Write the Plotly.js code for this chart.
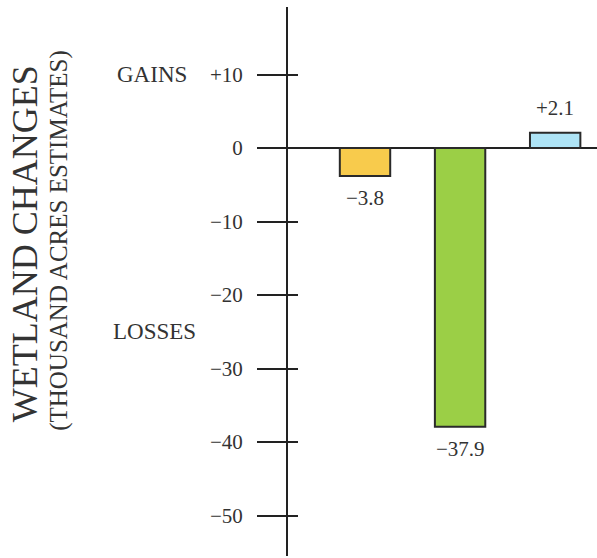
<!DOCTYPE html>
<html>
<head>
<meta charset="utf-8">
<script src="https://cdn.plot.ly/plotly-3.0.1.min.js"></script>
<style>html,body{margin:0;padding:0;background:#fff;}#chart{width:597px;height:558px;}</style>
</head>
<body>
<div id="chart"></div>
<script>
// ---- data ----
var categories = ['Bar 1', 'Bar 2', 'Bar 3'];
var values = [-3.8, -37.9, 2.1];
var valueLabels = ['\u22123.8', '\u221237.9', '+2.1'];
var barColors = ['#F8CB4C', '#9BCF46', '#AEE4F6'];
var tickVals = [10, 0, -10, -20, -30, -40, -50];
var tickText = ['+10', '0', '\u221210', '\u221220', '\u221230', '\u221240', '\u221250'];
var titleMain = 'WETLAND CHANGES';
var titleSub = '(THOUSAND ACRES ESTIMATES)';
var gainsLabel = 'GAINS';
var lossesLabel = 'LOSSES';

var serif = '"Liberation Serif", serif';
var ink = '#222';
var textCol = '#333';
var yRange = [-55.5, 19.2];

var trace = {
  type: 'bar',
  x: categories,
  y: values,
  width: 0.53,
  marker: {color: barColors, line: {color: '#2a2a2a', width: 2}},
  hoverinfo: 'skip',
  showlegend: false
};

var valueAnns = categories.map(function (c, i) {
  var pos = values[i] >= 0;
  return {
    x: c, y: values[i], xref: 'x', yref: 'y',
    text: valueLabels[i], showarrow: false,
    xanchor: 'center', yanchor: pos ? 'bottom' : 'top',
    yshift: pos ? 11 : -8,
    font: {family: serif, size: 21, color: textCol}
  };
});

var layout = {
  width: 597, height: 558,
  margin: {l: 288, r: 0, t: 7, b: 2, pad: 0},
  paper_bgcolor: '#fff', plot_bgcolor: '#fff',
  font: {family: serif, color: textCol},
  xaxis: {
    type: 'category', range: [-0.81, 2.44],
    showticklabels: false, showgrid: false, zeroline: false, showline: false, ticks: ''
  },
  yaxis: {
    range: yRange, tickvals: tickVals, ticktext: tickText,
    ticks: 'outside', ticklen: 29, tickwidth: 2, tickcolor: ink,
    ticklabelstandoff: 10,
    tickfont: {family: serif, size: 21, color: textCol},
    showline: true, linecolor: ink, linewidth: 2,
    showgrid: false,
    zeroline: true, zerolinecolor: ink, zerolinewidth: 2
  },
  yaxis2: {
    overlaying: 'y', side: 'left', range: yRange, tickvals: tickVals,
    ticks: 'inside', ticklen: 10, tickwidth: 2, tickcolor: ink,
    showticklabels: false, showline: false, showgrid: false, zeroline: false
  },
  annotations: valueAnns.concat([
    {xref: 'paper', yref: 'y', x: 0, y: tickVals[0], xanchor: 'right', yanchor: 'middle',
     xshift: -99, text: gainsLabel, showarrow: false,
     font: {family: serif, size: 23, color: textCol}},
    {xref: 'paper', yref: 'y', x: 0, y: -24.9, xanchor: 'right', yanchor: 'middle',
     xshift: -90, text: lossesLabel, showarrow: false,
     font: {family: serif, size: 23, color: textCol}},
    {xref: 'paper', yref: 'paper', x: 0, y: 0.568, xanchor: 'center', yanchor: 'middle',
     xshift: -263, text: titleMain, textangle: -90, showarrow: false,
     font: {family: serif, size: 36, color: textCol}},
    {xref: 'paper', yref: 'paper', x: 0, y: 0.574, xanchor: 'center', yanchor: 'middle',
     xshift: -229, text: titleSub, textangle: -90, showarrow: false,
     font: {family: serif, size: 25, color: textCol}}
  ])
};

// invisible trace to activate yaxis2
var helper = {type: 'scatter', x: [categories[0]], y: [0], yaxis: 'y2', mode: 'markers',
  marker: {opacity: 0}, hoverinfo: 'skip', showlegend: false};

Plotly.newPlot('chart', [trace, helper], layout, {displayModeBar: false, staticPlot: true});
</script>
</body>
</html>
